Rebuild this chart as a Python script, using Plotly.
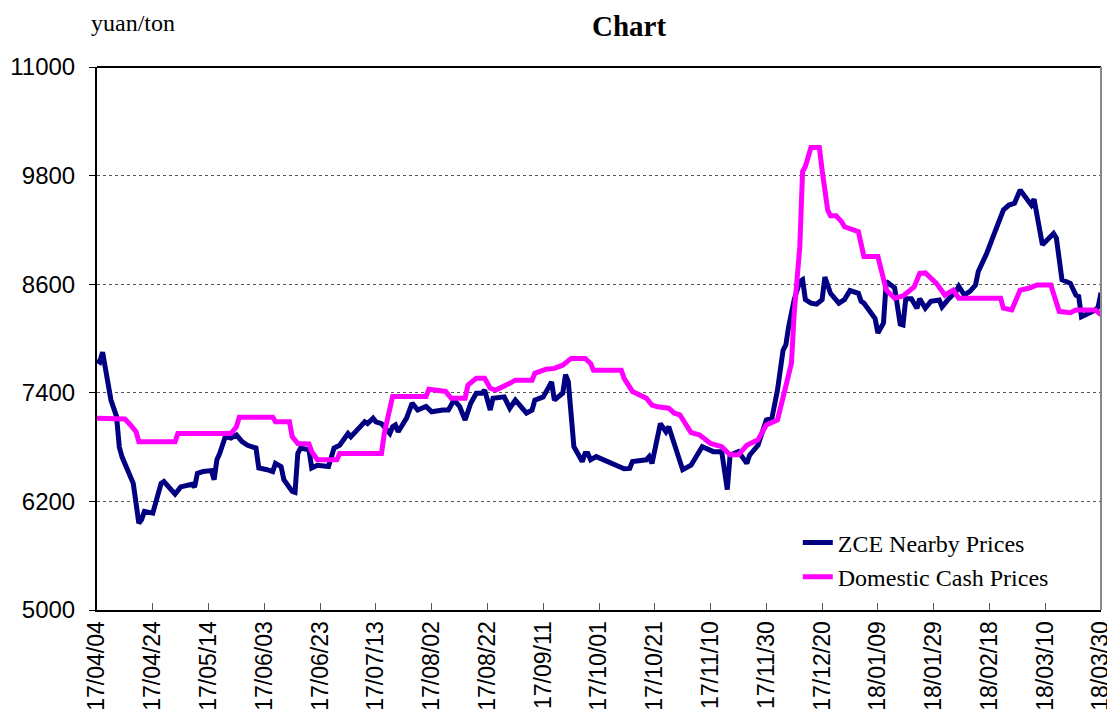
import plotly.graph_objects as go

# ZCE nearby prices (yuan/ton)
zce_dates = [
    "2017-04-04", "2017-04-05", "2017-04-06", "2017-04-08", "2017-04-09", "2017-04-11",
    "2017-04-12", "2017-04-13", "2017-04-15", "2017-04-17", "2017-04-18", "2017-04-19",
    "2017-04-20", "2017-04-21", "2017-04-24", "2017-04-25", "2017-04-27", "2017-04-28",
    "2017-05-02", "2017-05-04", "2017-05-06", "2017-05-08", "2017-05-09", "2017-05-10",
    "2017-05-12", "2017-05-15", "2017-05-16", "2017-05-17", "2017-05-18", "2017-05-19",
    "2017-05-20", "2017-05-22", "2017-05-24", "2017-05-26", "2017-05-28", "2017-05-31",
    "2017-06-01", "2017-06-04", "2017-06-06", "2017-06-07", "2017-06-09", "2017-06-10",
    "2017-06-13", "2017-06-14", "2017-06-15", "2017-06-16", "2017-06-19", "2017-06-20",
    "2017-06-22", "2017-06-26", "2017-06-27", "2017-06-28", "2017-06-30", "2017-07-02",
    "2017-07-03", "2017-07-04", "2017-07-06", "2017-07-08", "2017-07-09", "2017-07-10",
    "2017-07-12", "2017-07-13", "2017-07-15", "2017-07-18", "2017-07-19", "2017-07-20",
    "2017-07-21", "2017-07-24", "2017-07-26", "2017-07-28", "2017-07-31", "2017-08-02",
    "2017-08-06", "2017-08-08", "2017-08-09", "2017-08-10", "2017-08-12", "2017-08-14",
    "2017-08-16", "2017-08-18", "2017-08-20", "2017-08-21", "2017-08-23", "2017-08-24",
    "2017-08-28", "2017-08-30", "2017-09-01", "2017-09-03", "2017-09-05", "2017-09-07",
    "2017-09-08", "2017-09-11", "2017-09-14", "2017-09-15", "2017-09-18", "2017-09-19",
    "2017-09-20", "2017-09-22", "2017-09-25", "2017-09-26", "2017-09-27", "2017-09-28",
    "2017-09-30", "2017-10-10", "2017-10-12", "2017-10-13", "2017-10-18", "2017-10-19",
    "2017-10-20", "2017-10-23", "2017-10-25", "2017-10-26", "2017-10-31", "2017-11-03",
    "2017-11-07", "2017-11-11", "2017-11-14", "2017-11-16", "2017-11-17", "2017-11-20",
    "2017-11-23", "2017-11-24", "2017-11-27", "2017-11-30", "2017-12-02", "2017-12-04",
    "2017-12-06", "2017-12-07", "2017-12-08", "2017-12-10", "2017-12-12", "2017-12-13",
    "2017-12-14", "2017-12-16", "2017-12-18", "2017-12-20", "2017-12-21", "2017-12-23",
    "2017-12-26", "2017-12-28", "2017-12-30", "2018-01-02", "2018-01-03", "2018-01-04",
    "2018-01-08", "2018-01-09", "2018-01-11", "2018-01-12", "2018-01-15", "2018-01-17",
    "2018-01-18", "2018-01-19", "2018-01-21", "2018-01-23", "2018-01-24", "2018-01-26",
    "2018-01-28", "2018-01-31", "2018-02-01", "2018-02-03", "2018-02-06", "2018-02-07",
    "2018-02-09", "2018-02-11", "2018-02-13", "2018-02-14", "2018-02-17", "2018-02-20",
    "2018-02-23", "2018-02-25", "2018-02-27", "2018-03-01", "2018-03-04", "2018-03-05",
    "2018-03-06", "2018-03-09", "2018-03-13", "2018-03-14", "2018-03-16", "2018-03-18",
    "2018-03-19", "2018-03-21", "2018-03-22", "2018-03-23", "2018-03-26", "2018-03-28",
    "2018-03-29", "2018-03-30",
]
zce_prices = [
    7760, 7740, 7850, 7500, 7320, 7140,
    6800, 6690, 6550, 6400, 6180, 5960,
    6000, 6090, 6070, 6180, 6400, 6420,
    6280, 6360, 6375, 6390, 6360, 6510,
    6530, 6540, 6440, 6660, 6730, 6840,
    6915, 6900, 6935, 6860, 6820, 6790,
    6570, 6550, 6530, 6620, 6585, 6440,
    6310, 6300, 6730, 6790, 6770, 6570,
    6600, 6585, 6690, 6790, 6820, 6900,
    6950, 6915, 6990, 7045, 7080, 7060,
    7120, 7080, 7060, 6950, 7025, 7045,
    6970, 7120, 7285, 7210, 7250, 7190,
    7210, 7210, 7265, 7320, 7250, 7100,
    7285, 7395, 7395, 7430, 7210, 7340,
    7355, 7230, 7320, 7250, 7175, 7210,
    7320, 7355, 7520, 7320, 7395, 7600,
    7520, 6805, 6640, 6730, 6730, 6660,
    6695, 6560, 6565, 6640, 6660, 6695,
    6620, 7060, 6970, 7025, 6550, 6600,
    6805, 6750, 6750, 6330, 6710, 6750,
    6620, 6710, 6820, 7100, 7120, 7430,
    7870, 7930, 8130, 8430, 8630, 8650,
    8430, 8390, 8380, 8430, 8680, 8500,
    8390, 8430, 8530, 8500, 8410, 8390,
    8220, 8060, 8170, 8630, 8560, 8160,
    8150, 8440, 8440, 8335, 8440, 8335,
    8410, 8425, 8350, 8425, 8520, 8575,
    8480, 8520, 8590, 8740, 8940, 9180,
    9420, 9475, 9495, 9640, 9530, 9475,
    9540, 9035, 9160, 9110, 8650, 8630,
    8610, 8480, 8465, 8240, 8280, 8315,
    8350, 8505,
]

# Domestic cash prices (yuan/ton)
cash_dates = [
    "2017-04-04", "2017-04-14", "2017-04-16", "2017-04-18", "2017-04-19", "2017-05-02",
    "2017-05-03", "2017-05-22", "2017-05-24", "2017-05-25", "2017-06-06", "2017-06-07",
    "2017-06-12", "2017-06-13", "2017-06-15", "2017-06-19", "2017-06-20", "2017-06-22",
    "2017-06-29", "2017-06-30", "2017-07-15", "2017-07-16", "2017-07-19", "2017-07-31",
    "2017-08-01", "2017-08-04", "2017-08-07", "2017-08-09", "2017-08-14", "2017-08-15",
    "2017-08-18", "2017-08-21", "2017-08-23", "2017-08-25", "2017-08-28", "2017-08-30",
    "2017-09-01", "2017-09-07", "2017-09-08", "2017-09-12", "2017-09-15", "2017-09-18",
    "2017-09-21", "2017-09-26", "2017-09-28", "2017-09-29", "2017-10-09", "2017-10-10",
    "2017-10-13", "2017-10-18", "2017-10-20", "2017-10-22", "2017-10-26", "2017-10-28",
    "2017-10-30", "2017-11-02", "2017-11-03", "2017-11-06", "2017-11-08", "2017-11-10",
    "2017-11-14", "2017-11-17", "2017-11-20", "2017-11-23", "2017-11-27", "2017-11-30",
    "2017-12-04", "2017-12-07", "2017-12-09", "2017-12-10", "2017-12-12", "2017-12-13",
    "2017-12-14", "2017-12-16", "2017-12-19", "2017-12-20", "2017-12-22", "2017-12-23",
    "2017-12-25", "2017-12-27", "2017-12-28", "2018-01-02", "2018-01-04", "2018-01-09",
    "2018-01-12", "2018-01-15", "2018-01-18", "2018-01-22", "2018-01-24", "2018-01-26",
    "2018-01-30", "2018-02-02", "2018-02-05", "2018-02-07", "2018-02-22", "2018-02-23",
    "2018-02-26", "2018-03-01", "2018-03-04", "2018-03-07", "2018-03-12", "2018-03-15",
    "2018-03-19", "2018-03-21", "2018-03-28", "2018-03-30",
]
cash_prices = [
    7120, 7110, 7045, 6970, 6860, 6860,
    6950, 6950, 7025, 7130, 7130, 7080,
    7080, 6915, 6840, 6835, 6750, 6660,
    6660, 6730, 6730, 6950, 7360, 7360,
    7440, 7425, 7415, 7340, 7340, 7485,
    7560, 7560, 7450, 7430, 7470, 7505,
    7540, 7540, 7615, 7660, 7670, 7705,
    7780, 7780, 7725, 7650, 7650, 7560,
    7415, 7340, 7265, 7245, 7230, 7175,
    7155, 6990, 6960, 6935, 6880, 6840,
    6805, 6715, 6715, 6820, 6880, 7045,
    7100, 7505, 7725, 8280, 9015, 9845,
    9900, 10110, 10110, 9860, 9420, 9355,
    9355, 9290, 9235, 9180, 8905, 8905,
    8535, 8445, 8470, 8570, 8720, 8725,
    8610, 8480, 8535, 8445, 8445, 8335,
    8315, 8535, 8555, 8590, 8590, 8300,
    8285, 8315, 8315, 8260,
]

tick_dates = [
    "2017-04-04", "2017-04-24", "2017-05-14", "2017-06-03", "2017-06-23", "2017-07-13",
    "2017-08-02", "2017-08-22", "2017-09-11", "2017-10-01", "2017-10-21", "2017-11-10",
    "2017-11-30", "2017-12-20", "2018-01-09", "2018-01-29", "2018-02-18", "2018-03-10",
    "2018-03-30",
]
tick_labels = [d[2:].replace("-", "/") for d in tick_dates]
y_ticks = [5000, 6200, 7400, 8600, 9800, 11000]
y_labels = [str(v) for v in y_ticks]

serif = "Liberation Serif, Times New Roman, serif"
sans = "Liberation Sans, Arial, sans-serif"

fig = go.Figure()
fig.add_trace(go.Scatter(x=zce_dates, y=zce_prices, mode="lines", name="ZCE Nearby Prices",
                         line=dict(color="#000080", width=5)))
fig.add_trace(go.Scatter(x=cash_dates, y=cash_prices, mode="lines", name="Domestic Cash Prices",
                         line=dict(color="#FF00FF", width=5)))

# page body adds an 8px offset, so the figure is a bit smaller than the window
fig.update_layout(
    width=1107, height=704,
    margin=dict(l=89, r=14, t=59, b=102),
    paper_bgcolor="white", plot_bgcolor="white",
    showlegend=True,
    legend=dict(x=0.698, y=0.165, xanchor="left", yanchor="top",
                font=dict(family=serif, size=24, color="black"),
                bgcolor="rgba(0,0,0,0)", tracegroupgap=0),
)
fig.update_xaxes(
    type="date", range=["2017-04-04", "2018-03-30"], automargin=False,
    tickvals=tick_dates, ticktext=tick_labels, tickangle=-90,
    ticks="inside", ticklen=7, tickcolor="#555",
    tickfont=dict(family=sans, size=23, color="black"),
    showline=True, linecolor="black", linewidth=2,
    showgrid=False, zeroline=False,
)
fig.update_yaxes(
    range=[5000, 11000], tickvals=y_ticks, ticktext=y_labels, automargin=False,
    ticks="outside", ticklen=6, tickcolor="black", ticklabelstandoff=9,
    tickfont=dict(family=sans, size=24, color="black"),
    showline=True, linecolor="black", linewidth=2,
    showgrid=True, gridcolor="#555", griddash="dot", gridwidth=1,
    zeroline=False,
)
# frame: dark top edge, grey right edge
fig.add_shape(type="line", xref="paper", yref="paper", x0=0, x1=1, y0=1, y1=1,
              line=dict(color="black", width=2))
fig.add_shape(type="line", xref="paper", yref="paper", x0=1, x1=1, y0=0, y1=1,
              line=dict(color="#888", width=2))

# texts above the plot, anchored at the top edge of the figure
fig.add_annotation(text="<b>Chart</b>", xref="paper", yref="paper", x=0.53, y=1.108,
                   yanchor="top", showarrow=False,
                   font=dict(family=serif, size=29, color="black"))
fig.add_annotation(text="yuan/ton", xref="paper", yref="paper", x=-0.008, y=1.108,
                   xanchor="left", yanchor="top", showarrow=False,
                   font=dict(family=serif, size=24, color="black"))

fig.write_html("out.html")
